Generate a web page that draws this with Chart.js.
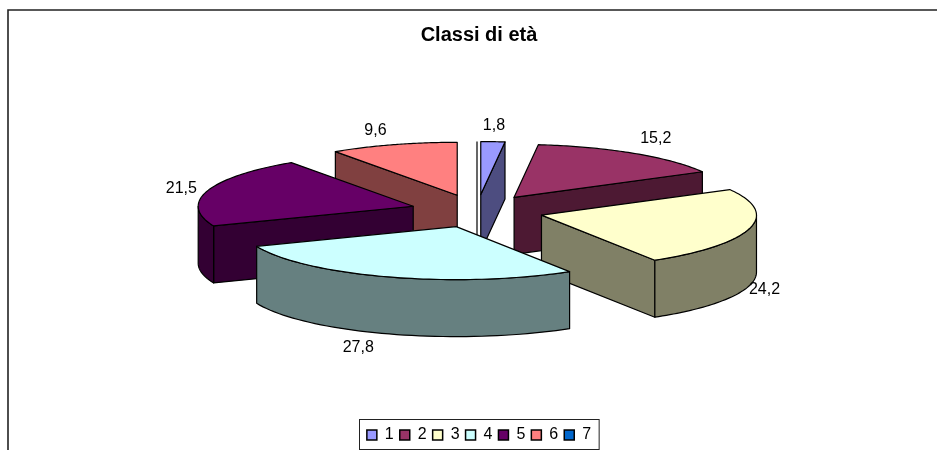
<!DOCTYPE html>
<html>
<head>
<meta charset="utf-8">
<style>html,body{margin:0;padding:0;background:#fff;overflow:hidden}canvas{display:block}</style>
<script src="https://cdn.jsdelivr.net/npm/chart.js@4"></script>
</head>
<body>
<canvas id="c" width="937" height="450"></canvas>
<script>
const categories = ['1','2','3','4','5','6','7'];
const values = [1.8, 15.2, 24.2, 27.8, 21.5, 9.6, 0];
const topColors = ['#9999FF','#993366','#FFFFCC','#CCFFFF','#660066','#FF8080','#0066CC'];
const sideColors = ['#4D4D80','#4D1933','#808066','#668080','#330033','#804040','#003366'];
const chartTitle = 'Classi di età';

const FONT = '"Liberation Sans", Arial, sans-serif';
const RADIUS = 215, TILT = 53 / 215, EXPLODE = 0.31, DEPTH = 57;
const PIE_CENTER_Y = 211, PIE_SHIFT_X = -2, LEGEND_SHIFT_Y = 5;
const LABEL_NUDGE = [[1,-16],[22,-15],[15,4],[-31,14],[-26,-2],[-18,-14],[0,0]];

function geom(arc) {
  const p = arc.getProps(['x','y','startAngle','endAngle','outerRadius'], true);
  const mid = (p.startAngle + p.endAngle) / 2;
  const R = p.outerRadius;
  const ax = p.x + PIE_SHIFT_X + Math.cos(mid) * R * EXPLODE;
  const ay = PIE_CENTER_Y + Math.sin(mid) * R * EXPLODE * TILT;
  const rim = a => [ax + Math.cos(a) * R, ay + Math.sin(a) * R * TILT];
  return {p, mid, R, ax, ay, rim};
}
function poly(ctx, pts, fill) {
  ctx.beginPath();
  pts.forEach((q, i) => i ? ctx.lineTo(q[0], q[1]) : ctx.moveTo(q[0], q[1]));
  ctx.closePath();
  if (fill) { ctx.fillStyle = fill; ctx.fill(); }
  ctx.stroke();
}
function wall(ctx, a, b, fill) {
  poly(ctx, [a, b, [b[0], b[1] + DEPTH], [a[0], a[1] + DEPTH]], fill);
}

const pie3d = {
  id: 'pie3d',
  afterLayout(chart) {
    chart.legend.top += LEGEND_SHIFT_Y;
    chart.legend.bottom += LEGEND_SHIFT_Y;
  },
  beforeDraw(chart) {
    const ctx = chart.ctx;
    ctx.save();
    ctx.fillStyle = '#fff';
    ctx.fillRect(0, 0, chart.width, chart.height);
    ctx.strokeStyle = '#222';
    ctx.lineWidth = 1.6;
    ctx.beginPath();
    ctx.moveTo(8, chart.height);
    ctx.lineTo(8, 10);
    ctx.lineTo(chart.width, 10);
    ctx.stroke();
    ctx.restore();
  },
  beforeDatasetDraw(chart, args) {
    const ctx = chart.ctx;
    const arcs = args.meta.data;
    const order = arcs.map((_, i) => i).sort((i, j) =>
      Math.sin((arcs[i].startAngle + arcs[i].endAngle) / 2) -
      Math.sin((arcs[j].startAngle + arcs[j].endAngle) / 2));
    ctx.save();
    ctx.lineJoin = 'round';
    ctx.strokeStyle = '#000';
    ctx.lineWidth = 1.2;
    order.forEach(i => {
      const g = geom(arcs[i]);
      const s = g.p.startAngle, e = g.p.endAngle;
      const apex = [g.ax, g.ay];
      const S = g.rim(s), E = g.rim(e);
      if (e - s < 1e-4) {
        ctx.beginPath();
        ctx.moveTo(S[0], S[1]);
        ctx.lineTo(apex[0], apex[1] + DEPTH);
        ctx.stroke();
        return;
      }
      if (S[0] < apex[0] - 0.5) wall(ctx, apex, S, sideColors[i]);
      if (E[0] > apex[0] + 0.5) wall(ctx, E, apex, sideColors[i]);
      const from = Math.max(s, 0), to = Math.min(e, Math.PI);
      if (to > from) {
        const up = [], down = [];
        for (let k = 0; k <= 48; k++) {
          const q = g.rim(from + (to - from) * k / 48);
          up.push(q);
          down.unshift([q[0], q[1] + DEPTH]);
        }
        poly(ctx, up.concat(down), sideColors[i]);
      }
      ctx.save();
      ctx.translate(g.ax, g.ay);
      ctx.scale(1, TILT);
      ctx.translate(-g.p.x, -g.p.y);
      arcs[i].draw(ctx);
      ctx.restore();
      const outline = [apex];
      for (let k = 0; k <= 64; k++) outline.push(g.rim(s + (e - s) * k / 64));
      poly(ctx, outline);
    });
    ctx.restore();
    return false;
  },
  afterDraw(chart) {
    const ctx = chart.ctx;
    const arcs = chart.getDatasetMeta(0).data;
    ctx.save();
    ctx.font = '16px ' + FONT;
    ctx.fillStyle = '#000';
    ctx.textAlign = 'center';
    ctx.textBaseline = 'middle';
    arcs.forEach((arc, i) => {
      if (!values[i]) return;
      const g = geom(arc);
      const q = g.rim(g.mid);
      const front = Math.sin(g.mid) > 0 ? DEPTH : 0;
      ctx.fillText(String(values[i]).replace('.', ','),
        q[0] + LABEL_NUDGE[i][0], q[1] + front + LABEL_NUDGE[i][1]);
    });
    const boxes = chart.legend.legendHitBoxes;
    const last = boxes[boxes.length - 1];
    ctx.strokeStyle = '#222';
    ctx.lineWidth = 1;
    ctx.strokeRect(359.5, 419.5, last.left + last.width + 8 - 359.5, 30);
    ctx.restore();
  }
};

new Chart(document.getElementById('c'), {
  type: 'pie',
  data: {
    labels: categories,
    datasets: [{ data: values, backgroundColor: topColors, borderWidth: 0 }]
  },
  plugins: [pie3d],
  options: {
    responsive: false,
    animation: false,
    radius: RADIUS,
    layout: { padding: { left: 21, bottom: 2 } },
    plugins: {
      tooltip: { enabled: false },
      title: {
        display: true, text: chartTitle, color: '#000',
        font: { family: FONT, size: 20, weight: 'bold' },
        padding: { top: 23, bottom: 10 }
      },
      legend: {
        position: 'bottom',
        labels: {
          color: '#000',
          font: { family: FONT, size: 16 },
          boxWidth: 10, boxHeight: 10, padding: 6,
          generateLabels(chart) {
            return Chart.overrides.pie.plugins.legend.labels.generateLabels(chart)
              .map(item => Object.assign(item, { strokeStyle: '#000', lineWidth: 1.5, hidden: false }));
          }
        }
      }
    }
  }
});
</script>
</body>
</html>
